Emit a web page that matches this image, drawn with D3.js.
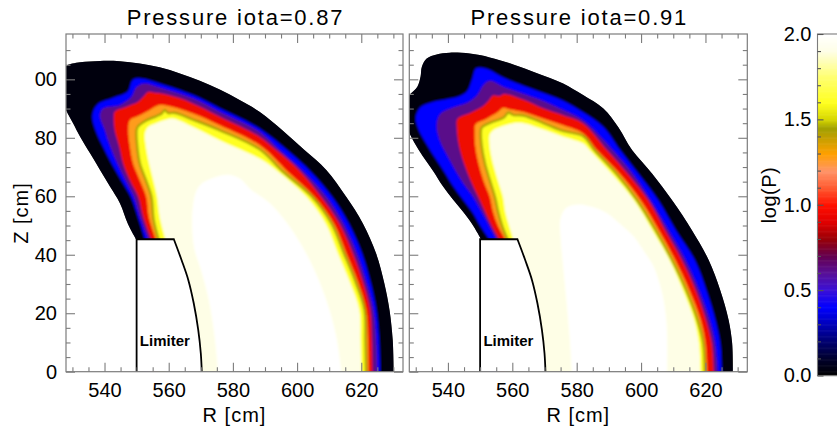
<!DOCTYPE html>
<html><head><meta charset="utf-8">
<script src="https://cdn.jsdelivr.net/npm/d3@7"></script>
<style>body{margin:0;background:#fff}svg{display:block}</style>
</head><body><svg id="c" width="837" height="428"></svg>
<script>
// ---------- data ----------
const titles = ["Pressure iota=0.87", "Pressure iota=0.91"];
const xTicks = [540, 560, 580, 600, 620];
const yTicks = [0, 20, 40, 60, 80, 100];
const yTickLabels = ["0", "20", "40", "60", "80", "00"];
const cbTicks = [0, 0.5, 1, 1.5, 2];
const cbTickLabels = ["0.0", "0.5", "1.0", "1.5", "2.0"];
const cbStops  = [0.0, 0.1, 0.2, 0.3, 0.4, 0.5, 0.6, 0.7, 0.8, 0.9, 1.0, 1.1, 1.2, 1.3, 1.4, 1.45, 1.5, 1.6, 1.75, 1.9, 2.0];
const cbColors = ["#000000","#00002c","#000070","#0000b8","#0000ff","#3a10d8","#581098","#640050","#980008","#e00000","#ff1000","#ff5a30","#ff9468","#ffa000","#c0a000","#a0a000","#d6d600","#ffff20","#ffff70","#fefee6","#ffffff"];
// log(P) level inside each contour (outer -> inner)
const levels = [0.02, 0.4, 0.62, 0.95, 1.27, 1.6, 1.9, 2.0];
const oliveLevel = 1.45;
const limiter = [[550,0],[550,45.3],[561.6,45.3],[564,38.2],[566.1,31.4],[567.8,23.4],[569.2,14.3],[570,6.3],[570.3,0]];

// contours [R cm, Z cm], iota = 0.87
const p1L0 = [[549.8,45.3],[547.3,50.5],[544.8,57.6],[541.7,63.3],[538.6,69.0],[535.5,74.7],[532.4,80.4],[530.2,85.0],[528.0,89.5],[526.0,95.0],[526.5,101.0],[528.0,104.5],[532.4,105.8],[538.6,106.3],[544.8,106.2],[551.0,105.4],[557.2,104.1],[563.5,102.0],[569.7,99.5],[575.9,96.5],[582.1,92.9],[588.3,88.9],[595.5,82.5],[602.3,75.8],[609.1,69.0],[615.3,59.8],[620.5,50.7],[624.6,40.5],[627.2,30.2],[628.8,21.1],[629.8,10.8],[630.1,0]];
const p1L1 = [[552.6,45.3],[550.4,53.0],[548.2,59.8],[545.2,65.5],[542.2,71.2],[539.5,77.0],[537.2,82.6],[536.2,87.6],[537.8,91.4],[542.5,93.6],[547.2,95.8],[548.8,99.8],[551.4,100.3],[557.2,98.6],[567.6,94.6],[575.9,90.1],[588.3,83.2],[596.9,75.8],[604.2,68.5],[610.9,59.8],[616.2,50.5],[620.2,40.5],[622.9,30.5],[624.7,21.1],[625.6,10.5],[625.9,0]];
const p1L2 = [[553.6,45.3],[551.0,53.0],[549.1,59.8],[546.5,65.5],[544.0,71.2],[541.8,77.0],[540.1,82.6],[538.6,87.7],[539.6,90.0],[544.8,91.2],[548.4,94.0],[550.0,97.4],[552.6,98.6],[557.2,97.2],[567.6,93.5],[575.9,88.9],[588.3,82.1],[594.6,75.8],[602.0,68.5],[609.1,59.8],[614.5,50.5],[618.6,40.5],[621.6,30.5],[623.8,21.1],[624.7,10.5],[625.0,0]];
const p1L3 = [[554.5,45.3],[552.0,53.0],[550.5,59.8],[547.9,65.5],[545.8,71.2],[544.6,77.0],[543.2,82.6],[542.9,87.2],[543.2,88.9],[546.9,90.6],[550.5,92.3],[552.1,94.0],[553.6,95.7],[555.7,95.4],[557.2,95.2],[563.5,93.5],[569.7,90.6],[575.9,87.2],[588.3,80.4],[593.5,75.8],[601.0,68.5],[607.5,59.8],[613.3,50.5],[617.4,40.5],[620.6,30.5],[622.8,21.1],[623.3,10.5],[623.5,0]];
const p1L4 = [[556.0,45.3],[553.8,53.0],[553.0,59.8],[551.0,65.5],[548.9,71.2],[547.9,77.0],[547.4,82.6],[547.9,86.0],[551.0,87.7],[554.1,89.5],[555.7,90.6],[557.2,91.2],[560.3,90.8],[567.6,88.3],[575.9,84.3],[588.3,77.5],[597.0,68.5],[605.4,59.8],[611.5,50.5],[615.3,40.5],[619.0,30.5],[621.5,21.1],[622.1,10.5],[622.3,0]];
const p1L5 = [[556.8,45.3],[555.3,52.0],[554.6,59.8],[552.9,65.5],[551.0,71.2],[550.2,77.0],[550.0,82.6],[550.4,83.8],[553.1,86.0],[556.2,87.4],[557.8,88.3],[558.8,89.5],[559.8,88.5],[561.9,88.5],[567.6,86.2],[575.9,82.6],[588.3,76.1],[595.5,68.5],[604.7,59.8],[610.8,50.5],[614.6,40.5],[618.3,30.5],[621.0,21.1],[621.3,10.5],[621.5,0]];
const p1L6 = [[559.0,45.3],[557.2,53.0],[556.4,59.8],[555.2,65.5],[553.9,71.2],[552.9,77.0],[552.6,81.5],[553.6,83.7],[556.2,85.1],[559.3,86.3],[561.4,86.6],[567.6,83.7],[575.9,79.2],[588.3,72.9],[594.0,68.5],[602.9,59.8],[609.0,50.5],[612.7,40.5],[616.5,30.5],[619.4,21.1],[619.8,10.5],[620.0,0]];
const p1L7 = [[575.4,0],[574.3,12],[572.5,24.5],[570.0,35],[568.0,42],[567.3,50],[567.6,57],[568.5,61.5],[570.5,64.5],[574.9,66.7],[579.0,67.3],[582.5,65.8],[585.2,62.7],[591.5,57.6],[597.7,49.6],[603.9,38.2],[609.1,24.5],[612.2,12],[613.8,0]];

// contours [R cm, Z cm], iota = 0.91
const p2L0 = [[550.3,45.3],[547.5,50.5],[544.7,54.7],[541.5,59.0],[538.5,63.3],[535.5,68.5],[532.3,73.5],[529.5,78.5],[527.5,83.0],[525.5,90.0],[528.0,94.6],[530.5,97.5],[531.5,101.0],[531.9,104.3],[533.4,107.1],[536.5,108.5],[540.5,109.1],[546.8,108.8],[553.0,107.5],[560.3,105.1],[567.5,102.2],[575.8,98.6],[582.0,94.6],[588.3,90.0],[593.0,83.5],[597.2,75.8],[603.4,67.8],[609.6,58.7],[615.8,48.4],[621.0,38.2],[624.6,27.9],[627.2,17.7],[628.3,9.7],[628.5,0]];
const p2L1 = [[552.8,45.3],[550.0,50.0],[547.5,54.7],[544.6,59.0],[541.7,63.3],[538.8,68.5],[535.8,73.5],[533.0,78.5],[531.0,82.5],[530.0,87.0],[531.5,90.5],[535.0,92.2],[539.5,93.2],[543.5,94.2],[546.0,96.0],[547.5,100.0],[548.8,103.8],[552.0,103.6],[557.2,100.6],[567.5,96.2],[575.8,92.7],[582.0,88.7],[588.3,83.7],[593.5,75.8],[599.3,67.5],[605.3,58.7],[610.8,48.4],[616.7,38.2],[620.3,27.9],[623.1,17.7],[624.6,9.7],[625.1,0]];
const p2L2 = [[555.0,45.3],[552.8,50.0],[550.5,54.7],[547.8,59.8],[545.5,63.3],[542.5,68.5],[540.0,73.5],[537.5,79.0],[536.5,84.0],[537.5,88.0],[542.0,90.5],[546.0,92.0],[549.0,94.5],[551.0,98.0],[553.0,99.5],[557.2,97.5],[567.5,93.5],[575.8,89.5],[582.0,86.0],[591.2,75.8],[597.5,67.5],[602.9,58.7],[608.5,48.4],[613.8,38.2],[618.0,27.9],[621.3,17.7],[623.0,9.7],[623.8,0]];
const p2L3 = [[555.8,45.3],[553.5,50.0],[551.5,54.7],[549.4,59.8],[547.0,65.5],[545.0,71.2],[543.5,77.0],[542.8,82.6],[543.0,86.5],[546.9,88.5],[550.5,90.5],[552.5,92.5],[554.0,94.5],[556.0,94.3],[557.5,95.0],[563.5,93.0],[569.7,90.0],[575.8,87.7],[582.0,84.9],[589.4,75.8],[596.0,67.5],[602.2,58.7],[607.5,48.4],[612.7,38.2],[617.0,27.9],[620.2,17.7],[622.0,9.7],[622.6,0]];
const p2L4 = [[557.8,45.3],[555.5,50.0],[554.0,54.7],[553.0,59.8],[551.0,65.5],[549.5,71.2],[548.5,77.0],[548.3,82.0],[548.5,84.5],[552.0,86.5],[555.5,88.8],[557.0,90.2],[559.0,89.8],[563.5,88.8],[569.7,86.5],[575.8,84.3],[582.0,81.5],[586.3,75.8],[593.5,67.5],[599.8,58.7],[605.5,48.4],[610.6,38.2],[615.0,27.9],[618.5,17.7],[620.0,9.7],[620.5,0]];
const p2L5 = [[558.5,45.3],[556.8,50.0],[555.6,54.7],[554.6,59.8],[553.0,65.5],[551.5,71.2],[550.5,77.0],[550.2,82.0],[550.5,83.5],[553.5,85.3],[557.2,86.8],[558.8,88.6],[560.3,87.8],[563.5,87.6],[569.7,85.0],[575.8,82.3],[582.0,80.6],[585.5,75.8],[592.5,67.5],[598.7,58.7],[604.5,48.4],[609.6,38.2],[614.0,27.9],[617.5,17.7],[619.3,9.7],[619.8,0]];
const p2L6 = [[560.3,45.3],[559.0,50.0],[557.8,54.7],[557.1,59.8],[555.5,65.5],[554.0,71.2],[553.0,77.0],[553.0,81.0],[554.0,82.5],[557.0,84.0],[560.3,85.0],[563.5,85.0],[569.7,82.8],[575.8,80.4],[582.0,78.1],[584.0,75.8],[591.0,67.5],[597.7,58.7],[603.5,48.4],[608.8,38.2],[613.0,27.9],[616.5,17.7],[618.0,9.7],[618.5,0]];
const p2L7 = [[578.5,0],[577.8,12],[576.8,24.5],[575.8,36],[575.0,46],[574.9,52],[576.5,55.8],[579.0,57.0],[581.1,57.2],[585.0,56.3],[589.4,54.2],[593.5,50.5],[597.7,46.2],[601.0,41.0],[603.9,36.0],[605.8,30.0],[607.0,24.5],[607.8,18.0],[608.1,12.0],[608.1,0]];

const panelContours = [
  [p1L0, p1L1, p1L2, p1L3, p1L4, p1L5, p1L6, p1L7],
  [p2L0, p2L1, p2L2, p2L3, p2L4, p2L5, p2L6, p2L7]
];
const oliveIndex = 5;

// ---------- layout ----------
const FONT = "'Liberation Sans', Arial, Helvetica, sans-serif";
const rDomain = [528, 633], zDomain = [0, 115.5];
const yTop = 34, yBot = 371.7;
const panelX = [[66, 403], [409.3, 747.3]];
const cb = {x: 817.5, w: 40, y0: 375.5, y1: 34};
const GRAY = "#7c7c7c";

const svg = d3.select("#c");
const defs = svg.append("defs");
defs.append("filter").attr("id", "bl").attr("x", "-5%").attr("y", "-5%").attr("width", "110%").attr("height", "110%")
  .append("feGaussianBlur").attr("stdDeviation", 1.25);

const color = d3.scaleLinear().domain(cbStops).range(cbColors).interpolate(d3.interpolateRgb);

function styleAxis(g, size) {
  g.select(".domain").remove();
  g.attr("font-family", FONT).attr("font-size", size || 20);
  g.selectAll(".tick line").attr("stroke", GRAY).attr("stroke-width", 1.1);
  g.selectAll(".tick text").attr("fill", "#000");
}

function drawPanel(idx) {
  const [L, R] = panelX[idx];
  const x = d3.scaleLinear().domain(rDomain).range([L, R]);
  const y = d3.scaleLinear().domain(zDomain).range([yBot, yTop]);
  const smooth = d3.line().x(d => x(d[0])).y(d => y(d[1])).curve(d3.curveCatmullRom.alpha(0.5));
  const straight = d3.line().x(d => x(d[0])).y(d => y(d[1]));
  const zLow = zDomain[0] - 6;
  const poly = pts => smooth(pts) + `L${x(pts[pts.length - 1][0])},${y(zLow)}L${x(pts[0][0])},${y(zLow)}Z`;
  const contours = panelContours[idx];

  defs.append("clipPath").attr("id", "fr" + idx).append("rect")
    .attr("x", L).attr("y", yTop).attr("width", R - L).attr("height", yBot - yTop);
  defs.append("clipPath").attr("id", "ob" + idx).append("path").attr("d", poly(contours[0]));

  const g = svg.append("g").attr("clip-path", `url(#fr${idx})`);
  g.append("path").attr("d", poly(contours[0])).attr("fill", color(levels[0]));
  const gb = g.append("g").attr("clip-path", `url(#ob${idx})`).append("g").attr("filter", "url(#bl)");
  contours.forEach((c, i) => {
    gb.append("path").attr("d", poly(c)).attr("fill", color(levels[i]))
      .attr("stroke", i === oliveIndex ? color(oliveLevel) : "none")
      .attr("stroke-width", i === oliveIndex ? 2.2 : 0);
  });

  // limiter: white mask + outline
  const curvePart = smooth(limiter.slice(2)).replace(/^M/, "L");
  const maskD = `M${x(rDomain[0]) - 5},${y(zLow)}L${x(rDomain[0]) - 5},${y(limiter[1][1])}` +
    straight(limiter.slice(1, 3)).replace(/^M/, "L") + curvePart + `L${x(limiter[limiter.length - 1][0])},${y(zLow)}Z`;
  g.append("path").attr("d", maskD).attr("fill", "#fff");
  g.append("path").attr("d", straight(limiter.slice(0, 3)) + curvePart)
    .attr("fill", "none").attr("stroke", "#000").attr("stroke-width", 1.8).attr("stroke-linejoin", "miter");

  g.append("text").attr("x", x(558.8)).attr("y", y(8.8)).attr("text-anchor", "middle")
    .attr("font-family", FONT).attr("font-weight", "bold").attr("font-size", 15).text("Limiter");

  // frame
  svg.append("rect").attr("x", L).attr("y", yTop).attr("width", R - L).attr("height", yBot - yTop)
    .attr("fill", "none").attr("stroke", GRAY).attr("stroke-width", 1.2);

  // axes (inward ticks)
  const xMinor = d3.range(530, 633, 5).filter(v => !xTicks.includes(v));
  const yMinor = d3.range(5, 115, 5).filter(v => !yTicks.includes(v));
  const gx = svg.append("g").attr("transform", `translate(0,${yBot})`)
    .call(d3.axisBottom(x).tickValues(xTicks).tickSize(-9).tickPadding(11).tickFormat(d3.format("d")));
  styleAxis(gx);
  styleAxis(svg.append("g").attr("transform", `translate(0,${yBot})`).call(d3.axisBottom(x).tickValues(xMinor).tickSize(-4.5).tickFormat("")));
  styleAxis(svg.append("g").attr("transform", `translate(0,${yTop})`).call(d3.axisTop(x).tickValues(xTicks).tickSize(-9).tickFormat("")));
  styleAxis(svg.append("g").attr("transform", `translate(0,${yTop})`).call(d3.axisTop(x).tickValues(xMinor).tickSize(-4.5).tickFormat("")));
  const gy = svg.append("g").attr("transform", `translate(${L},0)`)
    .call(d3.axisLeft(y).tickValues(yTicks).tickSize(-9).tickPadding(9)
      .tickFormat((d, i) => idx === 0 ? yTickLabels[i] : ""));
  styleAxis(gy);
  styleAxis(svg.append("g").attr("transform", `translate(${L},0)`).call(d3.axisLeft(y).tickValues(yMinor).tickSize(-4.5).tickFormat("")));
  styleAxis(svg.append("g").attr("transform", `translate(${R},0)`).call(d3.axisRight(y).tickValues(yTicks).tickSize(-9).tickFormat("")));
  styleAxis(svg.append("g").attr("transform", `translate(${R},0)`).call(d3.axisRight(y).tickValues(yMinor).tickSize(-4.5).tickFormat("")));

  // titles
  svg.append("text").attr("x", (L + R) / 2 + 1).attr("y", 25).attr("text-anchor", "middle")
    .attr("font-family", FONT).attr("font-size", 22).attr("letter-spacing", 1.8).text(titles[idx]);
  svg.append("text").attr("x", (L + R) / 2).attr("y", 421.5).attr("text-anchor", "middle")
    .attr("font-family", FONT).attr("font-size", 20).attr("letter-spacing", 1).text("R [cm]");
  if (idx === 0) {
    svg.append("text").attr("transform", `translate(28,213) rotate(-90)`).attr("text-anchor", "middle")
      .attr("font-family", FONT).attr("font-size", 20).attr("letter-spacing", 1).text("Z [cm]");
  }
}
drawPanel(0);
drawPanel(1);

// ---------- colorbar ----------
const cbY = d3.scaleLinear().domain([0, 2]).range([cb.y0, cb.y1]);
const step = 0.005;
svg.append("g").selectAll("rect").data(d3.range(0, 2, step)).join("rect")
  .attr("x", cb.x).attr("width", cb.w)
  .attr("y", d => cbY(d + step)).attr("height", d => cbY(d) - cbY(d + step) + 0.6)
  .attr("fill", d => color(d + step / 2));
svg.append("rect").attr("x", cb.x).attr("y", cb.y1).attr("width", cb.w).attr("height", cb.y0 - cb.y1)
  .attr("fill", "none").attr("stroke", GRAY).attr("stroke-width", 1.1);
const gcb = svg.append("g").attr("transform", `translate(${cb.x},0)`)
  .call(d3.axisLeft(cbY).tickValues(cbTicks).tickSize(-6).tickPadding(6).tickFormat((d, i) => cbTickLabels[i]));
styleAxis(gcb);
gcb.selectAll(".tick line").attr("stroke", "#555");
const gcb2 = svg.append("g").attr("transform", `translate(${cb.x},0)`)
  .call(d3.axisLeft(cbY).tickValues(d3.range(0.1, 2, 0.1).filter(v => Math.abs(v * 2 - Math.round(v * 2)) > 1e-6)).tickSize(-3.5).tickFormat(""));
styleAxis(gcb2);
gcb2.selectAll(".tick line").attr("stroke", "#555");
svg.append("text").attr("transform", `translate(776,195) rotate(-90)`).attr("text-anchor", "middle")
  .attr("font-family", FONT).attr("font-size", 20).attr("letter-spacing", 0.5).text("log(P)");
</script></body></html>
